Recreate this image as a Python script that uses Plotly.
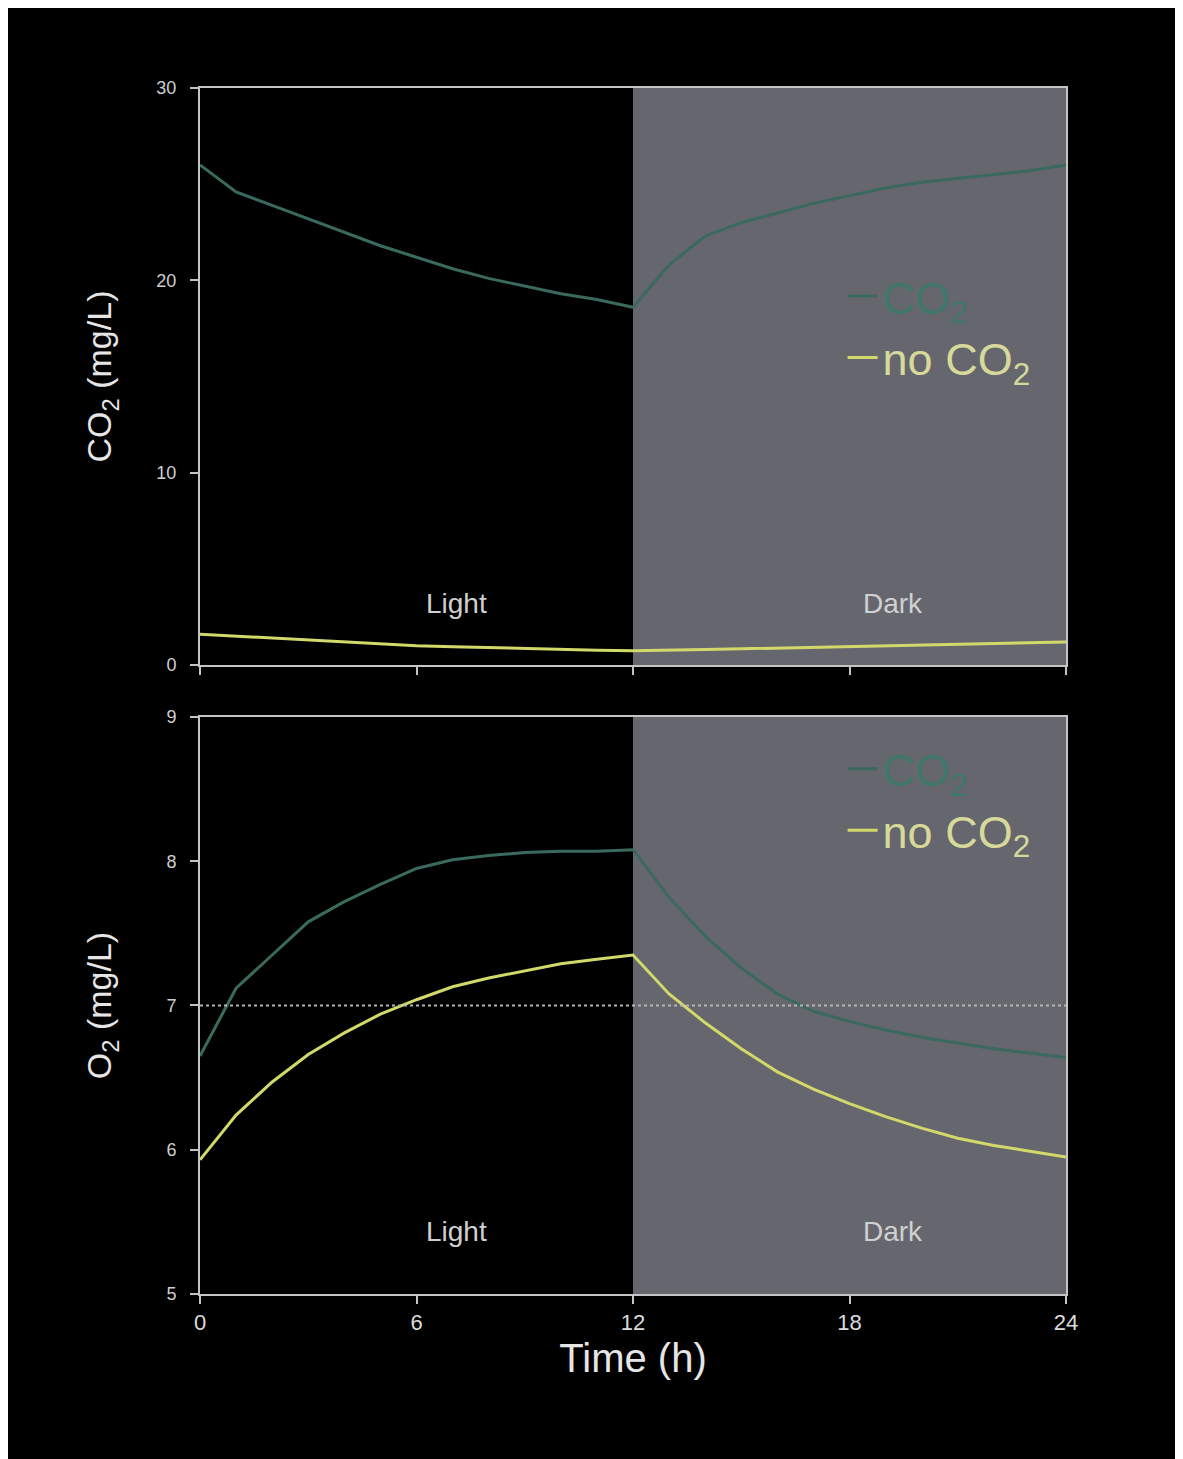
import plotly.graph_objects as go
from plotly.subplots import make_subplots

# ---- data ----
hours = list(range(0, 25))
co2_with_co2 = [26.0, 24.6, 23.9, 23.2, 22.5, 21.8, 21.2, 20.6, 20.1, 19.7, 19.3, 19.0, 18.6,
                20.8, 22.3, 23.0, 23.5, 24.0, 24.4, 24.8, 25.1, 25.3, 25.5, 25.7, 26.0]
co2_no_co2 = [1.6, 1.5, 1.4, 1.3, 1.2, 1.1, 1.0, 0.95, 0.9, 0.85, 0.8, 0.77, 0.74,
              0.76, 0.8, 0.84, 0.88, 0.92, 0.96, 1.0, 1.04, 1.08, 1.12, 1.16, 1.2]
o2_with_co2 = [6.65, 7.12, 7.35, 7.58, 7.72, 7.84, 7.95, 8.01, 8.04, 8.06, 8.07, 8.07, 8.08,
               7.75, 7.48, 7.26, 7.08, 6.96, 6.89, 6.83, 6.78, 6.74, 6.70, 6.67, 6.64]
o2_no_co2 = [5.93, 6.24, 6.47, 6.66, 6.81, 6.94, 7.04, 7.13, 7.19, 7.24, 7.29, 7.32, 7.35,
             7.08, 6.88, 6.70, 6.54, 6.42, 6.32, 6.23, 6.15, 6.08, 6.03, 5.99, 5.95]
x_ticks = [0, 6, 12, 18, 24]
co2_ticks = [0, 10, 20, 30]
o2_ticks = [5, 6, 7, 8, 9]
o2_reference = 7
light_dark = ["Light", "Dark"]
light_end = 12

TEAL = "#3a6a5e"
YELLOW = "#d2d96a"
GRAY_BG = "#66666e"
AXIS = "#c4c4c4"
FONT = "Liberation Sans, Arial, sans-serif"

fig = make_subplots(rows=2, cols=1, shared_xaxes=False, vertical_spacing=0.0431)

fig.add_trace(go.Scatter(x=hours, y=co2_with_co2, mode="lines", line=dict(color=TEAL, width=3),
                         name='<span style="color:#3f7868">CO<sub>2</sub></span>', legend="legend"),
              row=1, col=1)
fig.add_trace(go.Scatter(x=hours, y=co2_no_co2, mode="lines", line=dict(color=YELLOW, width=3),
                         name='<span style="color:#d6d99a">no CO<sub>2</sub></span>', legend="legend"),
              row=1, col=1)
fig.add_trace(go.Scatter(x=hours, y=o2_with_co2, mode="lines", line=dict(color=TEAL, width=3),
                         name='<span style="color:#3f7868">CO<sub>2</sub></span>', legend="legend2"),
              row=2, col=1)
fig.add_trace(go.Scatter(x=hours, y=o2_no_co2, mode="lines", line=dict(color=YELLOW, width=3),
                         name='<span style="color:#d6d99a">no CO<sub>2</sub></span>', legend="legend2"),
              row=2, col=1)

# dark-period shading
for xr, yr in [("x", "y domain"), ("x2", "y2 domain")]:
    fig.add_shape(type="rect", xref=xr, yref=yr, x0=light_end, x1=hours[-1], y0=0, y1=1,
                  fillcolor=GRAY_BG, line=dict(width=0), layer="below")

# O2 reference dotted line
fig.add_shape(type="line", xref="x2 domain", yref="y2", x0=0, x1=1, y0=o2_reference, y1=o2_reference,
              line=dict(color="#b4b4b4", width=2, dash="dot"))

# Light / Dark labels
for xr, yr, yv in [("x", "y", 3.2), ("x2", "y2", 5.43)]:
    fig.add_annotation(x=7.1, y=yv, xref=xr, yref=yr, text=light_dark[0], showarrow=False,
                       font=dict(size=28, color="#d0d0d0", family=FONT))
    fig.add_annotation(x=19.2, y=yv, xref=xr, yref=yr, text=light_dark[1],
                       showarrow=False, font=dict(size=28, color="#d0d0d0", family=FONT))

axis_common = dict(showline=True, linecolor=AXIS, linewidth=2, mirror=True, showgrid=False,
                   zeroline=False, ticks="outside", ticklen=8, tickcolor=AXIS, tickwidth=2)

fig.update_xaxes(range=[0, 24], tickvals=x_ticks, showticklabels=False, row=1, col=1, **axis_common)
fig.update_xaxes(range=[0, 24], tickvals=x_ticks, row=2, col=1,
                 tickfont=dict(size=22, color="#dcdcdc", family=FONT),
                 title=dict(text="Time (h)", font=dict(size=40, color="#e6e6e6", family=FONT), standoff=10),
                 **axis_common)
fig.update_yaxes(range=[0, 30], tickvals=co2_ticks, row=1, col=1, ticklabelstandoff=10,
                 tickfont=dict(size=18, color="#cfcfcf", family=FONT),
                 title=dict(text="CO<sub>2</sub> (mg/L)", font=dict(size=34, color="#e6e6e6", family=FONT),
                            standoff=34),
                 **axis_common)
fig.update_yaxes(range=[5, 9], tickvals=o2_ticks, row=2, col=1, ticklabelstandoff=10,
                 tickfont=dict(size=18, color="#cfcfcf", family=FONT),
                 title=dict(text="O<sub>2</sub> (mg/L)", font=dict(size=34, color="#e6e6e6", family=FONT),
                            standoff=44),
                 **axis_common)

fig.update_layout(
    width=1183, height=1459,
    margin=dict(l=192, r=125, t=80, b=173),
    paper_bgcolor="black",
    plot_bgcolor="black",
    font=dict(family=FONT, color="#dddddd"),
    legend=dict(x=0.742, y=0.802, xanchor="left", yanchor="middle", bgcolor="rgba(0,0,0,0)",
                font=dict(size=45, family=FONT), tracegroupgap=0, itemwidth=30),
    legend2=dict(x=0.742, y=0.41, xanchor="left", yanchor="middle", bgcolor="rgba(0,0,0,0)",
                 font=dict(size=45, family=FONT), tracegroupgap=0, itemwidth=30),
)

fig.write_html("out.html")
